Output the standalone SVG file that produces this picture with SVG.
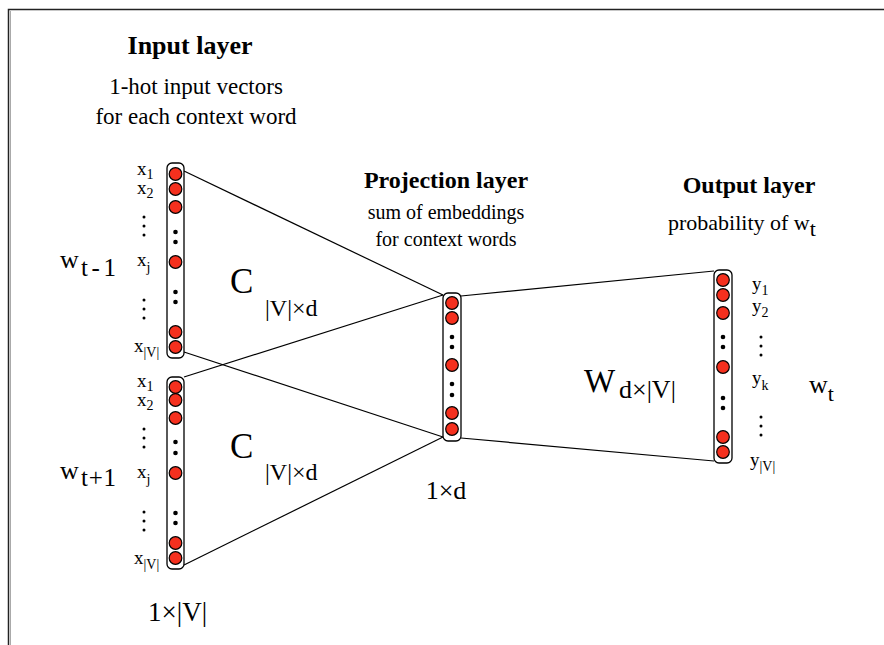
<svg xmlns="http://www.w3.org/2000/svg" width="884" height="645" viewBox="0 0 884 645">
<style>
text{font-family:"Liberation Serif","Times New Roman",serif;fill:#000}
.h{font-weight:bold;font-size:24px;text-anchor:middle}
.d{font-size:20px;text-anchor:middle}
.lab{font-size:19px}
.sub{font-size:14px}
.col{fill:#fff;stroke:#000;stroke-width:1.3}
.n{fill:#f5301e;stroke:#000;stroke-width:1.2}
.dot{fill:#000}
.conn line{stroke:#000;stroke-width:1.2}
</style>
<defs>
<circle id="n" r="6.3" class="n"/>
<circle id="d" r="2.3" class="dot"/>
<g id="vd"><circle cx="0" cy="0" r="1.5"/><circle cx="0" cy="9" r="1.5"/><circle cx="0" cy="18" r="1.5"/></g>
</defs>
<rect width="884" height="645" fill="#fff"/>
<path d="M8.5,645 V9.5 H884" fill="none" stroke="#222" stroke-width="1.5"/>
<path d="M10.5,645 V11" fill="none" stroke="#aaa" stroke-width="1"/>

<g class="conn">
<line x1="184" y1="171" x2="443" y2="295"/>
<line x1="184" y1="352" x2="443" y2="437"/>
<line x1="184" y1="377" x2="443" y2="295"/>
<line x1="184" y1="565" x2="443" y2="437"/>
<line x1="461" y1="296" x2="714" y2="271"/>
<line x1="461" y1="438" x2="714" y2="461"/>
</g>

<g id="titles">
<text class="h" x="190" y="54" style="font-size:26px">Input layer</text>
<text class="d" x="196" y="94" style="font-size:23px">1-hot input vectors</text>
<text class="d" x="196" y="124" style="font-size:23px">for each context word</text>
<text class="h" x="446" y="188">Projection layer</text>
<text class="d" x="446" y="219">sum of embeddings</text>
<text class="d" x="446" y="246">for context words</text>
<text class="h" x="749" y="193">Output layer</text>
<text x="668" y="230" style="font-size:22px">probability of w<tspan dy="6">t</tspan></text>
</g>

<g id="input1">
<rect class="col" x="167" y="163" width="17" height="195" rx="5"/>
<use href="#n" x="175.5" y="174"/><use href="#n" x="175.5" y="189"/><use href="#n" x="175.5" y="207"/>
<use href="#d" x="175.5" y="232"/><use href="#d" x="175.5" y="242"/>
<use href="#n" x="175.5" y="262"/>
<use href="#d" x="175.5" y="292"/><use href="#d" x="175.5" y="302"/>
<use href="#n" x="175.5" y="332"/><use href="#n" x="175.5" y="347"/>
<text class="lab" x="137" y="175">x<tspan class="sub" dy="4">1</tspan></text>
<text class="lab" x="137" y="194">x<tspan class="sub" dy="4">2</tspan></text>
<use href="#vd" x="144" y="217"/>
<text class="lab" x="137" y="266">x<tspan class="sub" dy="6">j</tspan></text>
<use href="#vd" x="144" y="300"/>
<text class="lab" x="134" y="352">x<tspan class="sub" dy="5">|V|</tspan></text>
<text x="60" y="268" style="font-size:26px">w</text>
<text x="81" y="276" style="font-size:25px" textLength="35" lengthAdjust="spacing">t-1</text>
<text x="230" y="293" style="font-size:35px">C</text>
<text x="265" y="316" style="font-size:24px">|V|×d</text>
</g>

<g id="input2">
<rect class="col" x="167" y="377" width="17" height="192" rx="5"/>
<use href="#n" x="175.5" y="387"/><use href="#n" x="175.5" y="400"/><use href="#n" x="175.5" y="418"/>
<use href="#d" x="175.5" y="442"/><use href="#d" x="175.5" y="453"/>
<use href="#n" x="175.5" y="473"/>
<use href="#d" x="175.5" y="513"/><use href="#d" x="175.5" y="523"/>
<use href="#n" x="175.5" y="543"/><use href="#n" x="175.5" y="558"/>
<text class="lab" x="137" y="387">x<tspan class="sub" dy="4">1</tspan></text>
<text class="lab" x="137" y="406">x<tspan class="sub" dy="4">2</tspan></text>
<use href="#vd" x="144" y="429"/>
<text class="lab" x="137" y="478">x<tspan class="sub" dy="6">j</tspan></text>
<use href="#vd" x="144" y="512"/>
<text class="lab" x="134" y="564">x<tspan class="sub" dy="5">|V|</tspan></text>
<text x="60" y="479" style="font-size:26px">w</text>
<text x="81" y="486" style="font-size:25px" textLength="35" lengthAdjust="spacing">t+1</text>
<text x="230" y="458" style="font-size:35px">C</text>
<text x="265" y="480" style="font-size:24px">|V|×d</text>
<text x="148" y="621" style="font-size:27px">1×|V|</text>
</g>

<g id="projection">
<rect class="col" x="443" y="293" width="18" height="148" rx="5"/>
<use href="#n" x="452" y="303"/><use href="#n" x="452" y="318"/>
<use href="#d" x="452" y="337"/><use href="#d" x="452" y="347"/>
<use href="#n" x="452" y="365"/>
<use href="#d" x="452" y="384"/><use href="#d" x="452" y="395"/>
<use href="#n" x="452" y="413"/><use href="#n" x="452" y="429"/>
<text x="446" y="499" style="font-size:26px;text-anchor:middle">1×d</text>
</g>

<g id="output">
<rect class="col" x="714" y="270" width="18" height="193" rx="5"/>
<use href="#n" x="723" y="280"/><use href="#n" x="723" y="295"/><use href="#n" x="723" y="313"/>
<use href="#d" x="723" y="337"/><use href="#d" x="723" y="347"/>
<use href="#n" x="723" y="367"/>
<use href="#d" x="723" y="398"/><use href="#d" x="723" y="408"/>
<use href="#n" x="723" y="437"/><use href="#n" x="723" y="452"/>
<text class="lab" x="752" y="290">y<tspan class="sub" dy="5">1</tspan></text>
<text class="lab" x="752" y="312">y<tspan class="sub" dy="5">2</tspan></text>
<use href="#vd" x="761" y="337"/>
<text class="lab" x="752" y="384">y<tspan class="sub" dy="6">k</tspan></text>
<use href="#vd" x="761" y="417"/>
<text class="lab" x="750" y="466">y<tspan class="sub" dy="5">|V|</tspan></text>
<text x="584" y="392" style="font-size:33px">W</text>
<text x="619" y="398" style="font-size:26px">d×|V|</text>
<text x="809" y="393" style="font-size:26px">w<tspan dy="8" style="font-size:22px">t</tspan></text>
</g>
</svg>
